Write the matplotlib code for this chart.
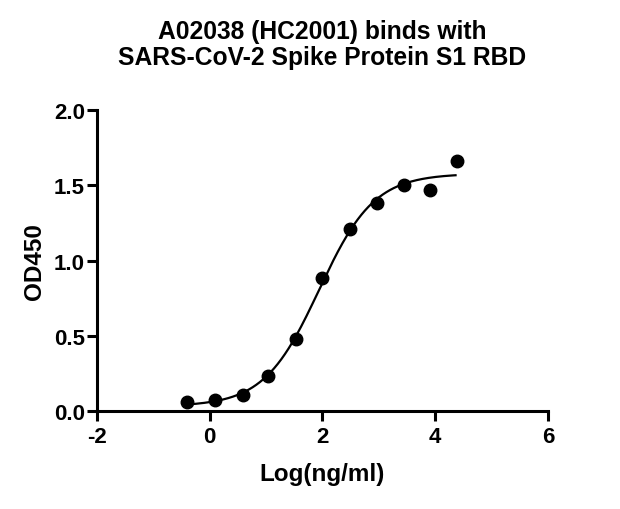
import numpy as np
from matplotlib import pyplot as plt

plt.rcParams['font.family'] = ['Liberation Sans', 'DejaVu Sans']
plt.rcParams['font.weight'] = 'bold'
plt.rcParams['axes.unicode_minus'] = False

# data
log_conc = [-0.40, 0.10, 0.59, 1.04, 1.53, 2.00, 2.49, 2.97, 3.44, 3.91, 4.39]
od450 = [0.060, 0.071, 0.109, 0.235, 0.477, 0.883, 1.207, 1.386, 1.506, 1.468, 1.663]
x_ticks = [-2, 0, 2, 4, 6]
y_ticks = [0.0, 0.5, 1.0, 1.5, 2.0]
title = "A02038 (HC2001) binds with\nSARS-CoV-2 Spike Protein S1 RBD"


def four_pl(x, bottom, top, logec50, hill):
    return bottom + (top - bottom) / (1 + 10 ** ((logec50 - x) * hill))


def fit_four_pl(x, y):
    # grid over ec50 / hill, bottom and top by linear least squares
    x = np.asarray(x)
    y = np.asarray(y)
    best = None
    for ec in np.linspace(1.0, 3.0, 201):
        for h in np.linspace(0.4, 2.0, 161):
            s = 1 / (1 + 10 ** ((ec - x) * h))
            A = np.column_stack([1 - s, s])
            coef = np.linalg.lstsq(A, y, rcond=None)[0]
            err = np.sum((A @ coef - y) ** 2)
            if best is None or err < best[0]:
                best = (err, coef[0], coef[1], ec, h)
    return best[1:]


params = fit_four_pl(log_conc, od450)

fig = plt.figure(figsize=(6.2, 5.1), dpi=100)
ax = fig.add_axes([0.156, 0.192, 0.728, 0.590])

xs = np.linspace(log_conc[0], 4.36, 300)
ax.plot(xs, four_pl(xs, *params), c="black", linewidth=1.6, zorder=2)
ax.plot(log_conc, od450, "o", c="black", markersize=9, zorder=3)

ax.set_xlim(-2, 6)
ax.set_ylim(0, 2.0)
ax.set_xticks(x_ticks)
ax.set_yticks(y_ticks)
ax.set_yticklabels(["%.1f" % v for v in y_ticks])
ax.spines["top"].set_visible(False)
ax.spines["right"].set_visible(False)
for side in ["left", "bottom"]:
    ax.spines[side].set_linewidth(2.2)
ax.tick_params(width=2.2, length=7, labelsize=16)
ax.tick_params(axis="x", pad=4)
ax.tick_params(axis="y", pad=1.5)

ax.set_xlabel("Log(ng/ml)", fontsize=17.5, fontweight="bold", labelpad=10.5)
ax.set_ylabel("OD450", fontsize=17.5, fontweight="bold", labelpad=6)
fig.text(0.52, 0.960, title, ha="center", va="top", fontsize=17.7, fontweight="bold",
         linespacing=1.07)

fig.savefig("out.png", dpi=100)
plt.close()
